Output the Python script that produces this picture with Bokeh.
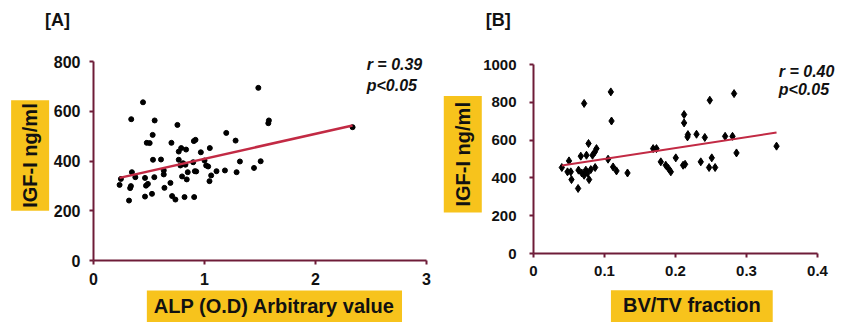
import numpy as np
from bokeh.plotting import figure
from bokeh.models import Label, Range1d, FixedTicker, Spacer
from bokeh.layouts import row, column
from bokeh.embed import file_html
from bokeh.resources import INLINE

# ---------------- data: panel A (ALP vs IGF-I) ----------------
alp_od = [0.235, 0.247, 0.32, 0.33, 0.337, 0.34, 0.346, 0.377, 0.446, 0.464,
          0.464, 0.473, 0.49, 0.48, 0.506, 0.527, 0.533, 0.536, 0.551, 0.548,
          0.608, 0.633, 0.633, 0.639, 0.693, 0.702, 0.708, 0.738, 0.756, 0.768,
          0.768, 0.783, 0.79, 0.798, 0.807, 0.82, 0.828, 0.834, 0.84, 0.849,
          0.898, 0.904, 0.913, 0.919, 0.907, 0.967, 1.0, 1.015, 1.033, 1.045,
          1.048, 1.06, 1.108, 1.184, 1.196, 1.28, 1.289, 1.319, 1.446, 1.485,
          1.506, 1.575, 1.58, 2.334, 0.925]
alp_igf = [304, 328, 241, 291, 299, 568, 355, 335, 636, 257,
           332, 301, 308, 473, 472, 268, 505, 405, 563, 335,
           406, 362, 346, 292, 312, 473, 259, 245, 545, 405,
           438, 382, 452, 338, 391, 255, 385, 446, 326, 355,
           395, 480, 359, 485, 255, 435, 402, 382, 378, 319,
           452, 342, 359, 362, 513, 482, 355, 398, 372, 694,
           399, 552, 563, 536, 358]
alp_fit_slope = 100.5
alp_fit_intercept = 308.5

# ---------------- data: panel B (BV/TV vs IGF-I) ----------------
bvtv = [0.0399, 0.050, 0.0479, 0.0525, 0.0535, 0.0628, 0.0634, 0.0666, 0.0713, 0.068,
        0.0713, 0.0737, 0.0746, 0.0775, 0.0761, 0.0783, 0.0807, 0.0831, 0.0863, 0.0887,
        0.0868, 0.1089, 0.1099, 0.105, 0.1121, 0.1169, 0.1324, 0.1685, 0.1732, 0.1793,
        0.1863, 0.1901, 0.1934, 0.2004, 0.2107, 0.2135, 0.2121, 0.2121, 0.2169, 0.2175,
        0.2296, 0.2356, 0.2413, 0.2483, 0.2473, 0.2511, 0.2558, 0.2699, 0.2803, 0.2825,
        0.2859, 0.3423]
bv_igf = [455, 490, 432, 432, 391, 344, 441, 515, 794, 426,
          414, 441, 520, 582, 426, 391, 444, 520, 537, 555,
          455, 855, 701, 499, 458, 437, 426, 555, 555, 485,
          467, 450, 432, 506, 467, 472, 735, 691, 617, 629,
          631, 485, 614, 811, 455, 506, 455, 620, 620, 846,
          532, 568]
bv_fit_slope = 576.5
bv_fit_intercept = 443.0

# tick labels
a_xticks = [0, 1, 2, 3]
a_xlabels = ["0", "1", "2", "3"]
a_yticks = [0, 200, 400, 600, 800]
a_ylabels = ["0", "200", "400", "600", "800"]
b_xticks = [0, 0.1, 0.2, 0.3, 0.4]
b_xlabels = ["0", "0.1", "0.2", "0.3", "0.4"]
b_yticks = [0, 200, 400, 600, 800, 1000]
b_ylabels = ["0", "200", "400", "600", "800", "1000"]

AXIS_COLOR = "#6E1C38"
FIT_COLOR = "#C22A44"
YELLOW = "#F7C31C"
FONT = "Liberation Sans"


def style_axes(p, xt, xl, yt, yl, tick_font, y_standoff):
    p.xgrid.visible = False
    p.ygrid.visible = False
    p.outline_line_color = None
    for ax, ticks, labels in ((p.xaxis[0], xt, xl), (p.yaxis[0], yt, yl)):
        ax.ticker = FixedTicker(ticks=ticks)
        ax.major_label_overrides = {t: l for t, l in zip(ticks, labels)}
        ax.axis_line_color = AXIS_COLOR
        ax.axis_line_width = 2
        ax.major_tick_line_color = AXIS_COLOR
        ax.major_tick_line_width = 2
        ax.major_tick_out = 4
        ax.major_tick_in = 0
        ax.minor_tick_line_color = None
        ax.major_label_text_font = FONT
        ax.major_label_text_font_style = "bold"
        ax.major_label_text_font_size = tick_font
        ax.major_label_text_color = "#111111"
    p.xaxis[0].major_label_standoff = 8
    p.yaxis[0].major_label_standoff = y_standoff


def add_text(p, side, x, y, text, size, style="bold", align="left", angle=0.0, bg=None, pad=None):
    # positions in data units; labels live in a side panel so they are not clipped to the frame
    kw = dict(x=x, y=y, text=text,
              text_font=FONT, text_font_size=size, text_font_style=style,
              text_color="#111111", text_align=align, text_baseline="middle",
              angle=angle)
    if bg is not None:
        kw.update(background_fill_color=bg, padding=pad)
    p.add_layout(Label(**kw), side)


# ---------------- panel A ----------------
pa = figure(width=440, height=322, output_backend="svg", toolbar_location=None,
            x_range=Range1d(0, 3), y_range=Range1d(0, 800),
            min_border_left=93, min_border_right=14, min_border_top=61, min_border_bottom=62)
style_axes(pa, a_xticks, a_xlabels, a_yticks, a_ylabels, "16px", 9)
pa.scatter(alp_od, alp_igf, size=5, marker="circle", color="black")
ax0, ax1 = min(alp_od), max(alp_od)
pa.line([ax0, ax1], [alp_fit_intercept + alp_fit_slope * ax0, alp_fit_intercept + alp_fit_slope * ax1],
        line_color=FIT_COLOR, line_width=2.5)
add_text(pa, "above", -0.436, 965, "[A]", "18px")
add_text(pa, "above", 2.461, 788, "r = 0.39", "16px", style="bold italic")
add_text(pa, "above", 2.461, 703, "p<0.05", "16px", style="bold italic")
add_text(pa, "left", -0.571, 422, "IGF-I ng/ml", "20px", align="center", angle=np.pi / 2,
         bg=YELLOW, pad=dict(left=3, right=3, top=8, bottom=8))
add_text(pa, "below", 1.63, -185, "ALP (O.D) Arbitrary value", "20px", align="center",
         bg=YELLOW, pad=dict(left=7, right=7, top=4, bottom=6))

# ---------------- panel B ----------------
pb = figure(width=401, height=319, output_backend="svg", toolbar_location=None,
            x_range=Range1d(0, 0.4), y_range=Range1d(0, 1000),
            min_border_left=93, min_border_right=24, min_border_top=61, min_border_bottom=69)
style_axes(pb, b_xticks, b_xlabels, b_yticks, b_ylabels, "15px", 13)
pb.scatter(bvtv, bv_igf, size=8, marker="diamond", color="black")
bx0, bx1 = min(bvtv), max(bvtv)
pb.line([bx0, bx1], [bv_fit_intercept + bv_fit_slope * bx0, bv_fit_intercept + bv_fit_slope * bx1],
        line_color=FIT_COLOR, line_width=2)
add_text(pb, "above", -0.0672, 1234, "[B]", "18px")
add_text(pb, "above", 0.3455, 965, "r = 0.40", "16px", style="bold italic")
add_text(pb, "above", 0.3455, 869, "p<0.05", "16px", style="bold italic")
add_text(pb, "left", -0.0996, 525, "IGF-I ng/ml", "20px", align="center", angle=np.pi / 2,
         bg=YELLOW, pad=dict(left=6, right=6, top=8, bottom=8))
add_text(pb, "below", 0.223, -279, "BV/TV fraction", "20px", align="center",
         bg=YELLOW, pad=dict(left=12, right=12, top=4, bottom=6))

layout = row(pa, column(Spacer(width=401, height=3), pb))
open("out.html", "w").write(file_html(layout, INLINE))
